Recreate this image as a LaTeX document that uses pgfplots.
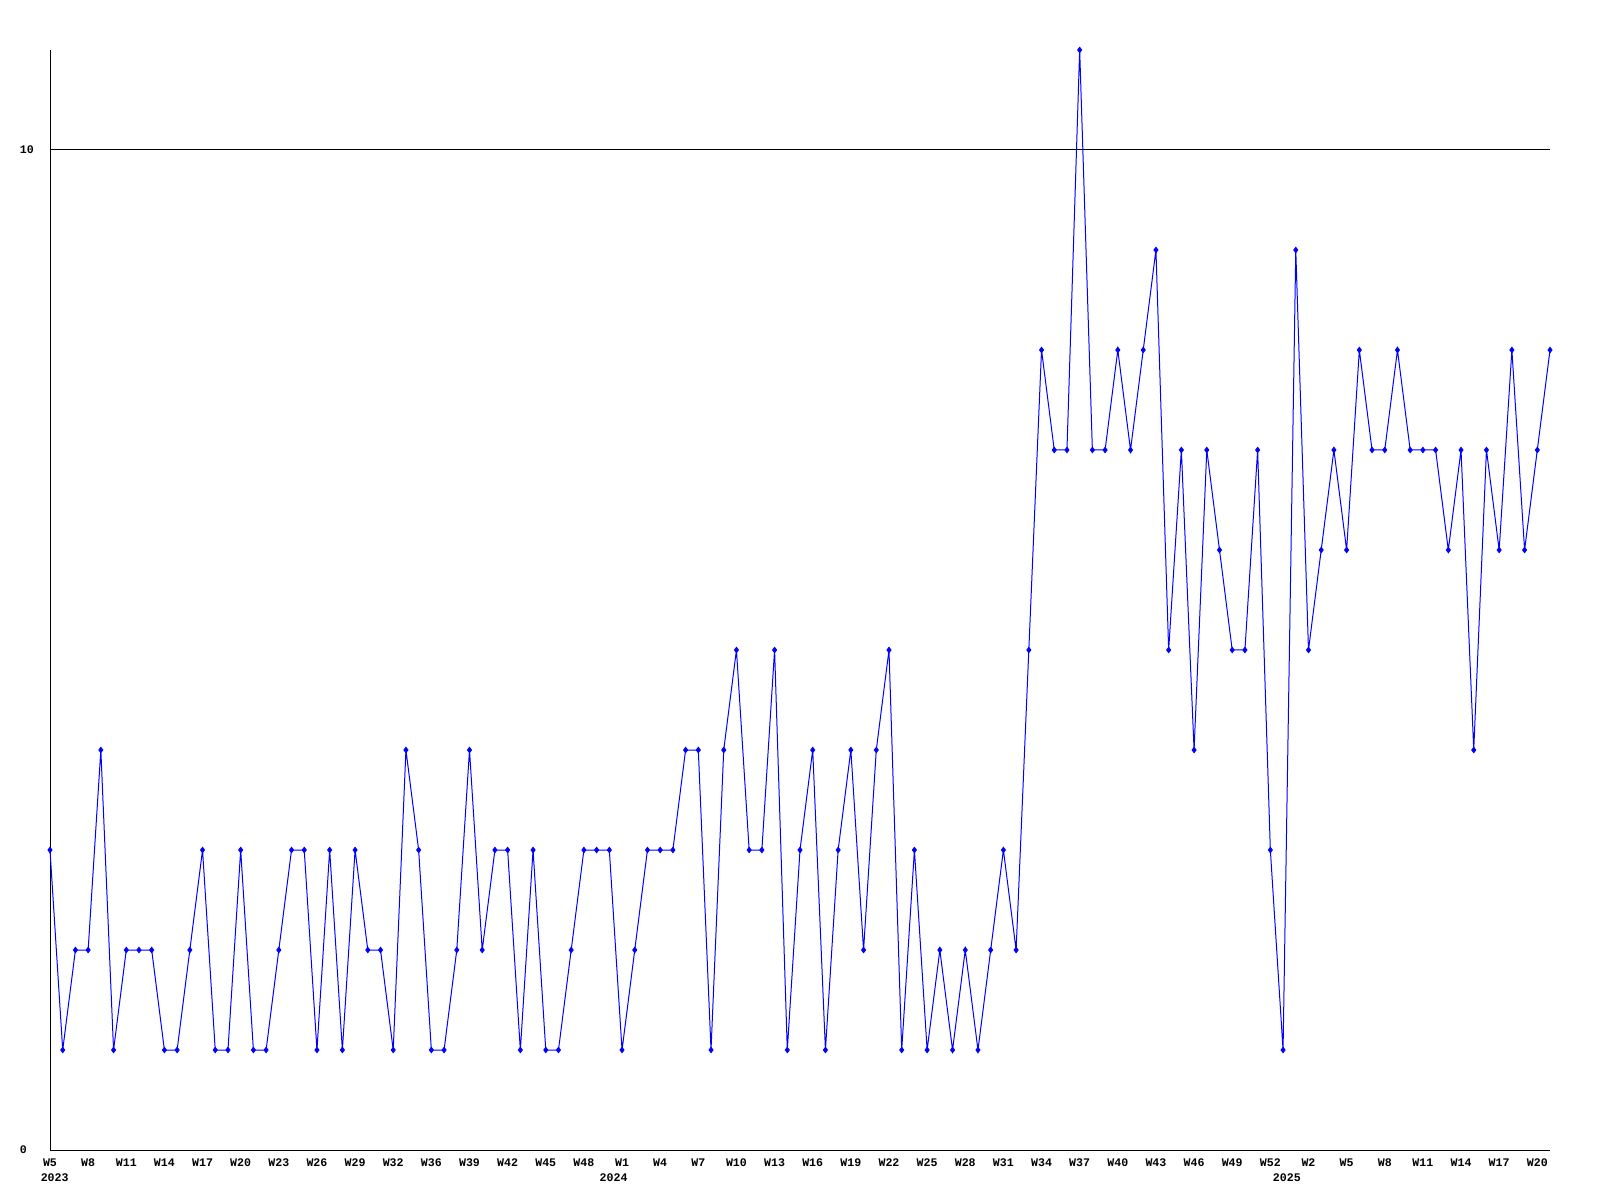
\documentclass[border=0pt]{standalone}
\usepackage{fontspec}
\usepackage{pgfplots}
\pgfplotsset{compat=1.18}
\newfontfamily\pixfont{Liberation Mono}
\definecolor{lineblue}{RGB}{0,0,255}

% weekly values, index 0 = W5 2023
\pgfplotstableread{
x y
0 3
1 1
2 2
3 2
4 4
5 1
6 2
7 2
8 2
9 1
10 1
11 2
12 3
13 1
14 1
15 3
16 1
17 1
18 2
19 3
20 3
21 1
22 3
23 1
24 3
25 2
26 2
27 1
28 4
29 3
30 1
31 1
32 2
33 4
34 2
35 3
36 3
37 1
38 3
39 1
40 1
41 2
42 3
43 3
44 3
45 1
46 2
47 3
48 3
49 3
50 4
51 4
52 1
53 4
54 5
55 3
56 3
57 5
58 1
59 3
60 4
61 1
62 3
63 4
64 2
65 4
66 5
67 1
68 3
69 1
70 2
71 1
72 2
73 1
74 2
75 3
76 2
77 5
78 8
79 7
80 7
81 11
82 7
83 7
84 8
85 7
86 8
87 9
88 5
89 7
90 4
91 7
92 6
93 5
94 5
95 7
96 3
97 1
98 9
99 5
100 6
101 7
102 6
103 8
104 7
105 7
106 8
107 7
108 7
109 7
110 6
111 7
112 4
113 7
114 6
115 8
116 6
117 7
118 8
}\weekly

\begin{document}
\begin{tikzpicture}
\path[use as bounding box] (0,0) rectangle (800pt,600pt);
\begin{axis}[
    at={(25pt,25pt)}, anchor=south west,
    scale only axis,
    width=750pt, height=550pt,
    xmin=0, xmax=118,
    ymin=0, ymax=11,
    axis x line*=bottom,
    axis y line*=left,
    axis line style={black, line width=0.5pt},
    major tick length=0pt,
    ytick={0,10},
    yticklabels={0,10},
    ymajorgrids,
    grid style={black, line width=0.5pt},
    xtick={0,3,...,117},
    xticklabels={W5,W8,W11,W14,W17,W20,W23,W26,W29,W32,W36,W39,W42,W45,W48,
      W1,W4,W7,W10,W13,W16,W19,W22,W25,W28,W31,W34,W37,W40,W43,W46,W49,W52,
      W2,W5,W8,W11,W14,W17,W20},
    extra x ticks={0.37,44.34,97.3},
    extra x tick labels={2023,2024,2025},
    extra x tick style={xticklabel style={yshift=-7.25pt}},
    /pgf/number format/assume math mode=true,
    ticklabel style={font=\pixfont\bfseries\fontsize{5.8}{8}\selectfont},
    xticklabel style={anchor=north, inner sep=0pt, yshift=-4.2pt},
    yticklabel style={anchor=west, inner sep=0pt, xshift=-15.3pt},
    clip=false,
  ]
  \addplot[lineblue, line width=0.5pt, mark=diamond*, mark size=1.3pt,
    mark options={lineblue}] table[x=x, y=y] {\weekly};
\end{axis}
\end{tikzpicture}
\end{document}
